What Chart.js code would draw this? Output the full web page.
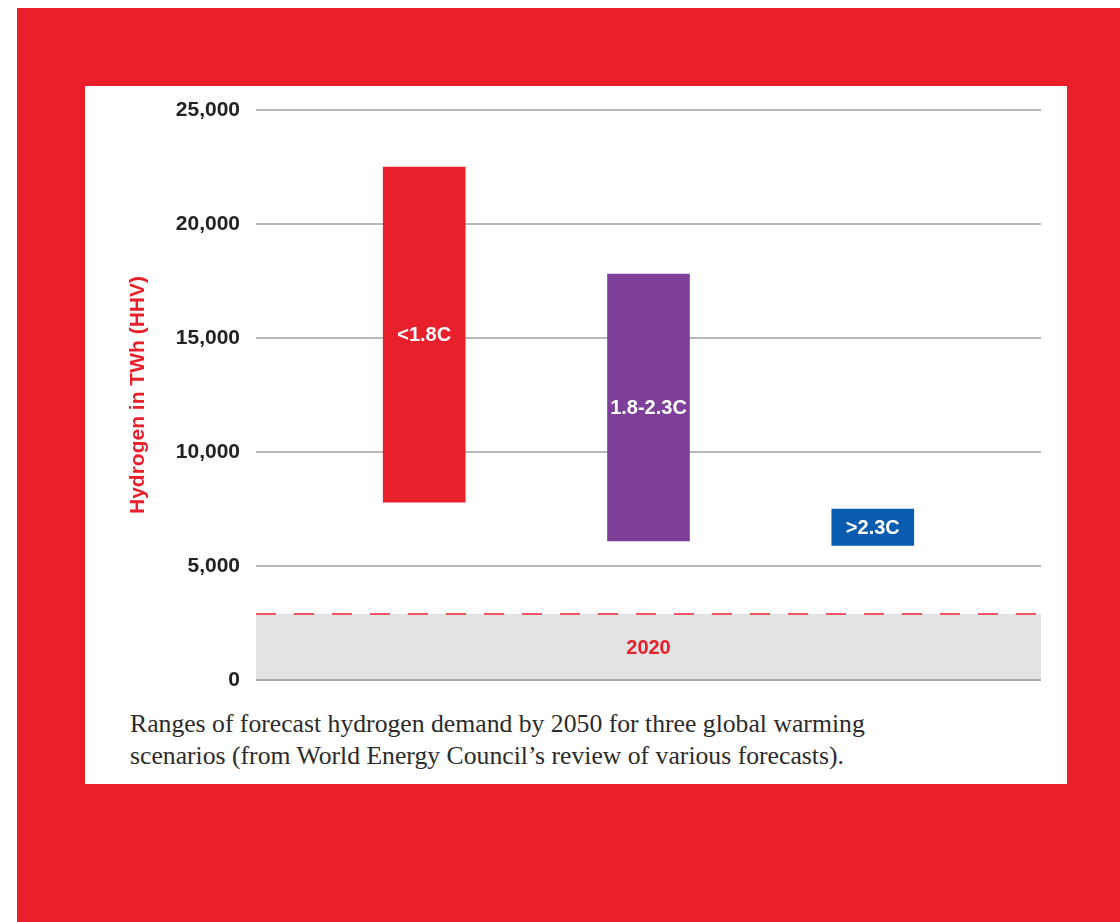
<!DOCTYPE html>
<html>
<head>
<meta charset="utf-8">
<script src="https://cdn.jsdelivr.net/npm/chart.js@4.4.1/dist/chart.umd.min.js"></script>
<style>
  html, body { margin: 0; padding: 0; background: #ffffff; }
  body { width: 1120px; height: 922px; position: relative; overflow: hidden; }
  #frame { position: absolute; left: 17px; top: 8px; width: 1103px; height: 914px; background: #ea1f2a; }
  #panel { position: absolute; left: 85px; top: 86px; width: 982px; height: 698px; background: #ffffff; }
  #chartBox { position: absolute; left: 0; top: 0; width: 982px; height: 610px; }
  #caption { position: absolute; left: 45px; top: 622px; width: 940px; white-space: nowrap;
    font-family: "Liberation Serif", "Times New Roman", serif; font-size: 25.7px; line-height: 32px; color: #2b2b2b; }
</style>
</head>
<body>
<div id="frame"></div>
<div id="panel">
  <div id="chartBox"><canvas id="c" width="982" height="610"></canvas></div>
  <div id="caption">Ranges of forecast hydrogen demand by 2050 for three global warming<br>scenarios (from World Energy Council’s review of various forecasts).</div>
</div>
<script>
// Scenario ranges of hydrogen demand in 2050 (TWh, HHV)
const scenarios = ['<1.8C', '1.8-2.3C', '>2.3C'];
const rangeLow  = [7800, 6100, 5900];
const rangeHigh = [22500, 17800, 7500];
const scenarioColors = ['#e8202c', '#7d3f98', '#0a5cb1'];
// 2020 demand level
const baselineLabel = '2020';
const baselineValue = 2900;
// y axis ticks
const yTicks = [0, 5000, 10000, 15000, 20000, 25000];

const xPos = scenarios.map((_, i) => i + 1);
const xMin = 0.25, xMax = 3.75;
const sansFamily = '"Liberation Sans", Arial, sans-serif';

const labelPlugin = {
  id: 'rangeLabels',
  afterDatasetsDraw(chart) {
    const ctx = chart.ctx;
    const meta = chart.getDatasetMeta(1);
    const xs = chart.scales.x, ys = chart.scales.y;
    ctx.save();
    ctx.textAlign = 'center';
    ctx.textBaseline = 'middle';
    ctx.font = 'bold 20px ' + sansFamily;
    ctx.fillStyle = '#ffffff';
    meta.data.forEach((bar, i) => {
      const mid = (rangeLow[i] + rangeHigh[i]) / 2;
      ctx.fillText(scenarios[i], bar.x, ys.getPixelForValue(mid) + 1);
    });
    ctx.fillStyle = '#e8202c';
    ctx.fillText(baselineLabel, xs.getPixelForValue((xMin + xMax) / 2), ys.getPixelForValue(baselineValue / 2) + 2);
    ctx.restore();
  }
};

new Chart(document.getElementById('c'), {
  type: 'bar',
  data: {
    datasets: [
      {
        type: 'line',
        data: [{ x: xMin, y: baselineValue }, { x: xMax, y: baselineValue }],
        borderColor: '#ee5561',
        borderWidth: 2,
        borderDash: [20, 18],
        pointRadius: 0,
        fill: 'origin',
        backgroundColor: '#e3e3e3',
        order: 2
      },
      {
        type: 'bar',
        data: xPos.map((x, i) => ({ x: x, y: [rangeLow[i], rangeHigh[i]] })),
        backgroundColor: scenarioColors,
        borderWidth: 0,
        barThickness: 82,
        order: 1
      }
    ]
  },
  options: {
    responsive: false,
    animation: false,
    layout: { padding: { left: 0, right: 26, top: 24, bottom: 16 } },
    plugins: {
      legend: { display: false },
      tooltip: { enabled: false },
      filler: { drawTime: 'beforeDraw' }
    },
    scales: {
      x: {
        type: 'linear',
        min: xMin,
        max: xMax,
        offset: false,
        display: false
      },
      y: {
        min: 0,
        max: 25000,
        afterBuildTicks(scale) { scale.ticks = yTicks.map(v => ({ value: v })); },
        afterFit(scale) { scale.width = 171; },
        border: { display: false },
        grid: {
          drawTicks: true,
          tickLength: 16,
          tickColor: 'rgba(0,0,0,0)',
          lineWidth: 2,
          color: ctx => ctx.tick && ctx.tick.value === 0 ? '#a9a9a9' : '#b9b9b9'
        },
        ticks: {
          padding: 0,
          color: '#222222',
          font: { family: sansFamily, size: 21, weight: 'bold' },
          callback: v => v.toLocaleString('en-US')
        },
        title: {
          display: true,
          text: 'Hydrogen in TWh (HHV)',
          color: '#e8202c',
          padding: { top: 41, bottom: 0 },
          font: { family: sansFamily, size: 21, weight: 'bold' }
        }
      }
    }
  },
  plugins: [labelPlugin]
});
</script>
</body>
</html>
